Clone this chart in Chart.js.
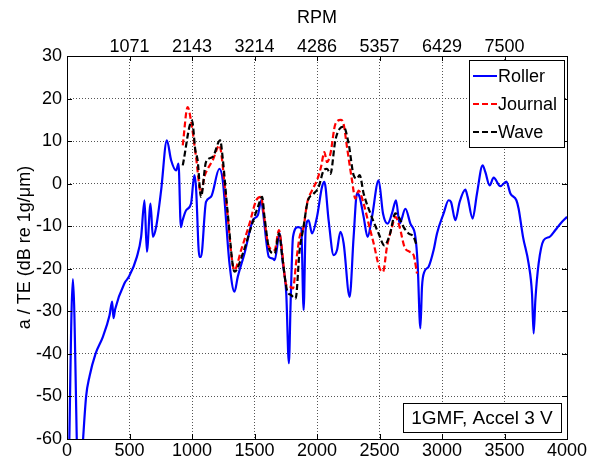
<!DOCTYPE html>
<html>
<head>
<meta charset="utf-8">
<script src="https://cdn.jsdelivr.net/npm/chart.js@4/dist/chart.umd.min.js"></script>
<style>
  body { margin: 0; background: #fff; }
  canvas { display: block; }
</style>
</head>
<body>
<canvas id="chart" width="600" height="469"></canvas>
<script>
// frequency axis (Hz) and a/TE values (dB)
const rollerX = [10, 47, 95, 120, 153, 180, 228, 287, 340, 361, 372, 385, 460, 495, 559, 593, 620, 639, 668, 687, 713, 753, 799, 833, 873, 892, 911, 925, 952, 992, 1019, 1032, 1059, 1072, 1112, 1152, 1219, 1246, 1300, 1340, 1366, 1420, 1487, 1527, 1554, 1567, 1615, 1647, 1661, 1701, 1727, 1754, 1775, 1789, 1808, 1848, 1874, 1893, 1909, 1933, 1960, 2000, 2040, 2059, 2093, 2133, 2160, 2187, 2213, 2261, 2293, 2320, 2341, 2373, 2405, 2440, 2493, 2528, 2565, 2600, 2632, 2661, 2707, 2747, 2787, 2805, 2827, 2840, 2859, 2893, 2933, 2960, 3013, 3053, 3072, 3107, 3141, 3187, 3205, 3245, 3280, 3325, 3347, 3381, 3413, 3467, 3515, 3547, 3595, 3613, 3648, 3693, 3720, 3733, 3747, 3773, 3813, 3861, 3907, 3947, 4000];
const rollerY = [-75, -22.4, -75, -64, -50, -45.3, -40, -36, -31, -27.7, -31.6, -29.5, -23.4, -21.9, -17.2, -12.5, -3.9, -16, -4.7, -12.5, -10.2, -1.6, 10.2, 5.5, 3.1, 4.7, -10.2, -8.6, -6.3, -4.7, 2, -0.8, -17.2, -17.2, -4.3, -3.1, 3.5, 0.8, -18.8, -25.4, -21.9, -16.4, -8.6, -7.4, -3.9, -6.3, -17.2, -17.6, -18, -11.7, -18.8, -25.8, -42.2, -28, -12.5, -10.2, -10.5, -29.7, -10.9, -8.6, -11.7, -7.8, -0.8, 0.4, -8.6, -16.8, -15.6, -11.3, -14, -26.6, -12.5, -2.3, -3.1, -7.8, -12.5, -7.8, 0.8, -7, -9.4, -7, -3.9, -9.4, -5.9, -9.4, -12.5, -18.8, -34, -24.2, -20.7, -19.5, -15.6, -11.7, -7, -3.9, -4.3, -8.6, -4.3, -1.4, -3.1, -8.2, -2.3, 4.3, 2.7, -0.4, 1.4, -0.6, 0.5, -2.3, -3.9, -5.9, -12.5, -18.8, -25.8, -35.2, -27.3, -18.8, -13.3, -12.5, -10.9, -9.4, -7.8];

const journalX = [926, 965, 992, 1032, 1072, 1099, 1126, 1166, 1219, 1233, 1273, 1340, 1393, 1460, 1514, 1554, 1567, 1615, 1661, 1696, 1714, 1754, 1781, 1808, 1835, 1861, 1893, 1920, 1960, 2000, 2032, 2059, 2080, 2107, 2147, 2192, 2213, 2240, 2280, 2307, 2333, 2373, 2413, 2453, 2501, 2528, 2560, 2600, 2627, 2661, 2699, 2741, 2773, 2800];
const journalY = [9, 18, 14.8, 6.3, -2.3, 1.6, 3.5, 5.5, 9, 7.4, -3.9, -20.3, -15.6, -9.4, -3.9, -3.1, -5.5, -14.8, -15.6, -10.9, -14, -23.8, -24.2, -24.6, -18, -12.5, -10.2, -4.7, -1.6, 0.8, 3.9, 7.4, 5.1, 7, 14, 15, 14, 8.6, 0.8, -3.5, -1.6, -4.7, -9.4, -14, -19.9, -20.7, -14.8, -10.2, -7.8, -10.2, -14.8, -16, -16.8, -21.1];

const waveX = [926, 1000, 1027, 1045, 1072, 1112, 1166, 1225, 1246, 1286, 1340, 1407, 1473, 1527, 1561, 1580, 1620, 1661, 1696, 1722, 1760, 1794, 1829, 1861, 1888, 1928, 1968, 2013, 2053, 2080, 2107, 2147, 2181, 2213, 2253, 2293, 2320, 2341, 2373, 2427, 2493, 2539, 2581, 2627, 2661, 2693, 2733, 2773, 2800];
const waveY = [4.3, 14.8, 7.8, 5.5, -3.1, 5.1, 6.3, 10.2, 5.9, -7, -20.7, -16.4, -10.2, -5.5, -3.1, -7.8, -15.6, -16.4, -11.7, -17.2, -25, -26.2, -27, -15.6, -10.9, -3.9, -2.5, -0.8, 3.1, 3.5, 2.3, 10.2, 12.9, 13.4, 9.4, 2, 1.2, 2, -2.3, -7, -11.7, -14.5, -12.1, -7, -8.2, -10.2, -11.7, -12.5, -14.8];

// top axis: RPM at 500, 1000 ... 3500 Hz
const rpmTicks = ['1071', '2143', '3214', '4286', '5357', '6429', '7500'];
const noteText = '1GMF, Accel 3 V';

function pts(xs, ys) {
    return xs.map((x, i) => ({ x: x, y: ys[i] }));
}

Chart.defaults.font.family = "'Liberation Sans', Arial, sans-serif";
Chart.defaults.font.size = 18;
Chart.defaults.color = '#000';

const gridDots = { color: '#555', lineWidth: 1, drawTicks: false };

// matlab style box, inward ticks, legend and note box
const matlabBox = {
    id: 'matlabBox',
    afterDatasetsDraw(chart) {
        const ctx = chart.ctx;
        const a = chart.chartArea;
        const xs = chart.scales.x, ys = chart.scales.y;
        ctx.save();
        ctx.strokeStyle = '#000';
        ctx.lineWidth = 1;
        ctx.setLineDash([]);
        ctx.beginPath();
        xs.ticks.forEach(t => {
            const px = Math.round(xs.getPixelForValue(t.value)) + 0.5;
            ctx.moveTo(px, a.bottom); ctx.lineTo(px, a.bottom - 5);
            ctx.moveTo(px, a.top); ctx.lineTo(px, a.top + 5);
        });
        ys.ticks.forEach(t => {
            const py = Math.round(ys.getPixelForValue(t.value)) + 0.5;
            ctx.moveTo(a.left, py); ctx.lineTo(a.left + 5, py);
            ctx.moveTo(a.right, py); ctx.lineTo(a.right - 5, py);
        });
        ctx.stroke();
        ctx.strokeRect(a.left + 0.5, a.top + 0.5, a.right - a.left, a.bottom - a.top);

        // legend
        const lx = a.right - 98, ly = a.top + 4;
        ctx.fillStyle = '#fff';
        ctx.fillRect(lx, ly, 95, 87);
        ctx.strokeRect(lx + 0.5, ly + 0.5, 95, 87);
        ctx.font = "18px 'Liberation Sans', Arial, sans-serif";
        ctx.textBaseline = 'middle';
        ctx.textAlign = 'left';
        chart.data.datasets.forEach((ds, i) => {
            const y = ly + 16 + i * 28;
            ctx.beginPath();
            ctx.strokeStyle = ds.borderColor;
            ctx.lineWidth = 2;
            ctx.setLineDash(ds.borderDash || []);
            ctx.moveTo(lx + 4, y);
            ctx.lineTo(lx + 28, y);
            ctx.stroke();
            ctx.fillStyle = '#000';
            ctx.fillText(ds.label, lx + 29, y + 1);
        });

        // note box
        ctx.setLineDash([]);
        ctx.strokeStyle = '#000';
        ctx.lineWidth = 1;
        const nx = a.right - 164, ny = a.bottom - 36;
        ctx.fillStyle = '#fff';
        ctx.fillRect(nx, ny, 158, 29);
        ctx.strokeRect(nx + 0.5, ny + 0.5, 158, 29);
        ctx.fillStyle = '#000';
        ctx.textAlign = 'center';
        ctx.font = "19px 'Liberation Sans', Arial, sans-serif";
        ctx.fillText(noteText, nx + 79, ny + 16);
        ctx.restore();
    }
};

const lineBase = { pointRadius: 0, fill: false, cubicInterpolationMode: 'monotone', clip: 0 };

new Chart(document.getElementById('chart'), {
    type: 'line',
    data: {
        datasets: [
            Object.assign({ label: 'Roller', data: pts(rollerX, rollerY), borderColor: '#0000ff', borderWidth: 2.2, order: 3 }, lineBase),
            Object.assign({ label: 'Journal', data: pts(journalX, journalY), borderColor: '#ff0000', borderWidth: 2.2, borderDash: [6, 3], order: 2 }, lineBase),
            Object.assign({ label: 'Wave', data: pts(waveX, waveY), borderColor: '#000000', borderWidth: 2.2, borderDash: [6, 3], order: 1 }, lineBase)
        ]
    },
    options: {
        responsive: false,
        animation: false,
        devicePixelRatio: 1,
        layout: { padding: 0 },
        plugins: { legend: { display: false }, tooltip: { enabled: false } },
        scales: {
            x: {
                type: 'linear', position: 'bottom', min: 0, max: 4000,
                ticks: { stepSize: 500, padding: 3, maxRotation: 0, font: { lineHeight: 1 }, callback: v => String(v) },
                grid: gridDots,
                border: { display: false, dash: [1, 2] },
                afterFit: s => { s.height = 30; }
            },
            x2: {
                type: 'linear', position: 'top', min: 0, max: 4000,
                ticks: {
                    stepSize: 500, padding: 0, maxRotation: 0, font: { lineHeight: 1 },
                    callback: v => (v > 0 && v < 4000) ? rpmTicks[v / 500 - 1] : ''
                },
                grid: { display: false, drawTicks: false },
                border: { display: false },
                title: { display: true, text: 'RPM', padding: { top: 7, bottom: 0 } },
                afterFit: s => { s.height = 56; }
            },
            y: {
                type: 'linear', position: 'left', min: -60, max: 30,
                ticks: { stepSize: 10, padding: 5, callback: v => String(v) },
                grid: gridDots,
                border: { display: false, dash: [1, 2] },
                title: { display: true, text: 'a / TE (dB re 1g/μm)', padding: { top: 14, bottom: 0 } },
                afterFit: s => { s.width = 67; }
            },
            y2: {
                type: 'linear', position: 'right', min: -60, max: 30,
                ticks: { display: false },
                grid: { display: false, drawTicks: false },
                border: { display: false },
                afterFit: s => { s.width = 33; }
            }
        }
    },
    plugins: [matlabBox]
});
</script>
</body>
</html>
